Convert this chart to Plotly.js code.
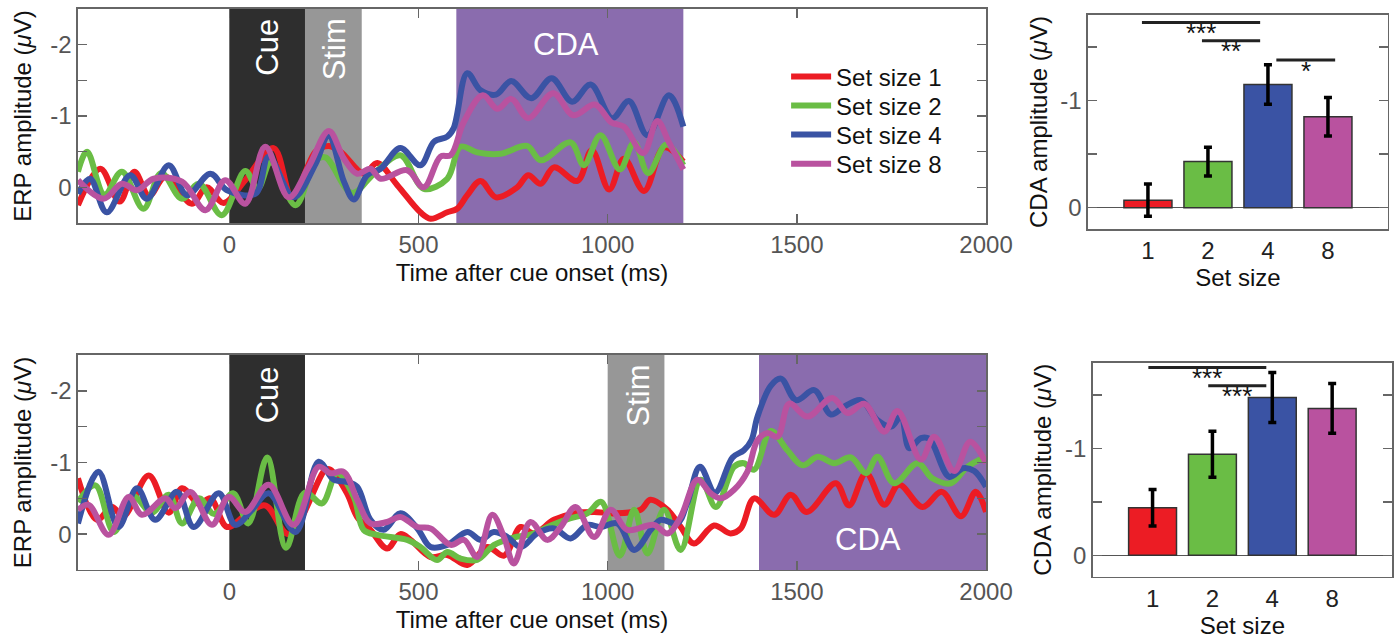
<!DOCTYPE html>
<html>
<head>
<meta charset="utf-8">
<script src="https://cdn.plot.ly/plotly-3.0.1.min.js"></script>
<style>
  html, body { margin: 0; padding: 0; background: #fff; }
  #chart { width: 1400px; height: 641px; }
</style>
</head>
<body>
<div id="chart"></div>
<script>
// ---------- ERP waveforms, cue-first condition (time in ms, amplitude in µV) ----------
const seriesNames = ['Set size 1', 'Set size 2', 'Set size 4', 'Set size 8'];

const topT1 = [-400,-341,-290,-251,-212,-169,-99,-60,-15,42,117,166,228,262,294,356,391,444,505,532,576,602,629,664,705,761,790,823,858,920,958,1004,1043,1096,1149,1200];
const topV1 = [0.25,-0.26,0.20,-0.22,0.12,-0.15,0.23,0.0,0.22,-0.10,-0.55,0.14,-0.50,-0.58,-0.50,-0.19,-0.34,-0.03,0.35,0.44,0.35,0.30,0.11,-0.09,0.14,0.0,-0.17,-0.05,-0.28,-0.09,-0.52,0.03,-0.40,0.05,-0.56,-0.36];

const topT2 = [-400,-376,-330,-284,-227,-180,-125,-80,-20,42,75,110,175,228,254,324,382,452,514,576,611,655,717,787,823,902,937,981,1032,1070,1107,1155,1200];
const topV2 = [-0.22,-0.50,0.10,-0.22,0.30,-0.20,0.16,-0.05,0.39,-0.23,0.02,-0.35,0.25,-0.38,-0.42,0.08,-0.19,-0.45,0.02,-0.12,-0.57,-0.49,-0.47,-0.58,-0.38,-0.63,-0.31,-0.73,-0.25,-0.63,-0.20,-0.60,-0.31];

const topT4 = [-400,-368,-324,-262,-218,-160,-112,-50,-6,69,104,170,228,262,303,329,364,400,452,505,541,576,593,629,664,705,745,798,852,906,955,1012,1056,1105,1162,1200];
const topV4 = [0.09,-0.12,0.35,-0.17,0.16,-0.31,0.11,-0.19,0.04,0.09,-0.43,0.14,-0.33,-0.73,-0.08,0.17,-0.17,-0.26,-0.55,-0.31,-0.64,-0.71,-0.83,-1.60,-1.36,-1.30,-1.49,-1.25,-1.53,-1.20,-1.44,-0.97,-1.21,-0.73,-1.29,-0.85];

const topT8 = [-400,-332,-284,-244,-200,-125,-63,-11,42,95,157,210,263,303,338,373,400,470,514,558,585,620,670,708,745,790,856,909,966,1010,1043,1094,1131,1162,1200];
const topV8 = [-0.10,0.16,-0.05,0.04,-0.12,-0.08,0.32,-0.10,0.23,-0.57,0.14,-0.29,-0.79,-0.40,-0.19,-0.26,-0.12,-0.24,0.0,-0.43,-0.45,-0.92,-1.29,-1.10,-1.24,-0.97,-1.32,-1.01,-1.16,-0.91,-0.85,-0.48,-0.93,-0.63,-0.25];

// ---------- ERP waveforms, stimulus-later condition ----------
const botT1 = [-400,-350,-310,-280,-213,-160,-125,-80,-50,-6,40,95,157,254,267,311,338,373,417,452,479,532,576,629,682,726,770,805,858,911,964,1017,1087,1113,1158,1193,1228,1281,1325,1352,1387,1440,1484,1526,1603,1638,1683,1731,1770,1832,1883,1934,1973,2000];
const botV1 = [-0.78,-0.20,-0.38,-0.25,-0.82,-0.30,-0.64,-0.42,-0.50,-0.10,-0.25,-0.40,0.0,-0.90,-0.90,-0.57,-0.24,-0.06,0.20,0.0,0.08,0.32,0.29,0.43,0.18,0.30,-0.10,-0.01,-0.20,-0.29,-0.31,-0.29,-0.34,-0.48,-0.34,-0.10,0.13,-0.12,-0.01,-0.08,-0.50,-0.27,-0.55,-0.31,-0.71,-0.40,-0.85,-0.41,-0.69,-0.38,-0.59,-0.25,-0.59,-0.31];

const botT2 = [-400,-354,-305,-255,-205,-160,-125,-80,-40,10,50,100,150,200,245,285,329,355,391,470,505,549,576,611,655,700,750,800,850,900,946,983,1032,1070,1105,1149,1193,1246,1286,1334,1360,1387,1431,1475,1515,1555,1599,1643,1683,1713,1757,1819,1858,1907,1951,2000];
const botV2 = [-0.45,-0.68,-0.03,-0.53,-0.30,-0.55,-0.15,-0.50,-0.28,-0.57,-0.15,-1.07,0.19,-0.58,-0.43,-0.85,-0.52,-0.06,0.01,0.08,0.18,0.36,0.25,0.34,0.36,0.15,0.05,0.0,-0.12,-0.22,-0.29,-0.45,0.30,-0.34,0.27,-0.34,0.22,-0.76,-0.38,-0.94,-0.99,-0.90,-1.44,-1.17,-0.96,-1.08,-0.99,-1.07,-0.85,-1.08,-0.71,-0.99,-0.78,-0.71,-0.94,-1.08];

const botT4 = [-400,-346,-293,-244,-196,-138,-94,-28,16,60,104,175,236,276,311,338,373,408,452,497,532,576,629,664,699,735,770,814,858,902,946,981,1026,1070,1114,1140,1184,1210,1244,1284,1330,1360,1380,1396,1431,1458,1498,1546,1590,1625,1669,1713,1749,1775,1797,1828,1850,1903,1940,1969,2000];
const botV4 = [-0.15,-0.87,-0.10,-0.64,-0.20,-0.59,-0.10,-0.57,-0.13,-0.34,-0.57,-0.03,-1.01,-0.76,-0.73,-0.66,-0.20,-0.06,-0.29,-0.08,0.18,0.15,-0.03,0.08,-0.03,0.04,0.18,-0.01,-0.08,0.06,-0.13,-0.10,-0.15,0.22,-0.06,-0.20,-0.15,-0.43,-0.94,-0.58,-1.07,-1.17,-1.31,-1.64,-2.07,-2.17,-1.87,-2.01,-1.67,-1.78,-1.87,-1.59,-1.50,-1.64,-1.20,-1.34,-1.33,-0.80,-0.92,-0.88,-0.66];

const botT8 = [-400,-372,-319,-266,-231,-169,-143,-103,-46,-2,42,104,170,236,267,302,338,373,417,452,497,532,585,620,655,695,726,752,796,840,876,915,964,1008,1052,1122,1158,1193,1237,1272,1299,1334,1369,1396,1422,1449,1480,1528,1594,1634,1678,1731,1766,1828,1863,1916,1958,2000];
const botV8 = [-0.34,-0.41,0.01,-0.52,-0.27,-0.50,-0.36,-0.59,-0.13,-0.52,-0.31,-0.69,-0.13,-0.94,-0.85,-0.87,-0.48,-0.15,-0.17,-0.24,-0.10,-0.08,0.15,0.08,0.32,-0.27,0.04,0.41,-0.17,0.08,-0.10,-0.38,0.04,-0.34,-0.06,-0.13,-0.01,-0.24,-0.76,-0.57,-0.50,-0.62,-0.87,-1.31,-1.41,-1.36,-1.82,-1.64,-1.90,-1.69,-1.82,-1.43,-1.72,-1.04,-1.36,-0.88,-1.29,-0.99];

// ---------- Mean CDA amplitude per set size ----------
const setSizes = ['1', '2', '4', '8'];
const topCDA = [-0.07, -0.43, -1.15, -0.85];
const topSEM = [0.15, 0.135, 0.185, 0.18];
const botCDA = [-0.445, -0.945, -1.475, -1.373];
const botSEM = [0.17, 0.215, 0.233, 0.233];

// pairwise comparisons and their significance labels
const topPairs = [['1', '4'], ['2', '4'], ['4', '8']];
const topStars = ['***', '**', '*'];
const botPairs = [['1', '4'], ['2', '4']];
const botStars = ['***', '***'];

// ---------- styling ----------
const colors = ['#ec1c24', '#6abd45', '#3a53a4', '#b9529f'];
const FONT = 'Liberation Sans, Arial, Helvetica, sans-serif';
const AXIS_GREY = '#666';
const TICK_GREY = '#555';
const legendIds = ['legend', 'legend2', 'legend3', 'legend4'];

function wave(t, v, i, xa, ya, legend) {
  return {
    type: 'scatter', mode: 'lines', x: t, y: v, name: seriesNames[i],
    xaxis: xa, yaxis: ya, showlegend: legend, legend: legendIds[i],
    line: { color: colors[i], width: 6, shape: 'spline', smoothing: 1 },
    hoverinfo: 'skip'
  };
}

function bars(vals, errs, xa, ya) {
  return {
    type: 'bar', x: setSizes, y: vals, xaxis: xa, yaxis: ya, showlegend: false,
    width: 0.8,
    marker: { color: colors, line: { color: '#333', width: 1.5 } },
    error_y: { type: 'data', array: errs, visible: true, color: '#000', thickness: 3.5, width: 4 },
    hoverinfo: 'skip'
  };
}

const traces = [
  wave(topT1, topV1, 0, 'x', 'y', true),
  wave(topT2, topV2, 1, 'x', 'y', true),
  wave(topT4, topV4, 2, 'x', 'y', true),
  wave(topT8, topV8, 3, 'x', 'y', true),
  wave(botT1, botV1, 0, 'x2', 'y2', false),
  wave(botT2, botV2, 1, 'x2', 'y2', false),
  wave(botT4, botV4, 2, 'x2', 'y2', false),
  wave(botT8, botV8, 3, 'x2', 'y2', false),
  bars(topCDA, topSEM, 'x3', 'y3'),
  bars(botCDA, botSEM, 'x4', 'y4')
];

const baseAxis = {
  showline: true, linecolor: AXIS_GREY, linewidth: 1.5, mirror: 'allticks',
  ticks: 'inside', ticklen: 9, tickwidth: 1.5, tickcolor: AXIS_GREY,
  showgrid: false, zeroline: false,
  tickfont: { family: FONT, size: 24, color: TICK_GREY }
};

function timeAxis(domain, anchor) {
  return Object.assign({}, baseAxis, {
    domain: domain, anchor: anchor, range: [-400, 2000],
    tickvals: [0, 500, 1000, 1500, 2000],
    title: { text: 'Time after cue onset (ms)', font: { family: FONT, size: 24, color: '#111' }, standoff: 7 }
  });
}
function erpAxis(domain, anchor) {
  return Object.assign({}, baseAxis, {
    domain: domain, anchor: anchor, range: [0.5, -2.5],
    tickvals: [-2, -1.5, -1, -0.5, 0], ticktext: ['-2', '', '-1', '', '0'],
    title: { text: 'ERP amplitude (<i>μ</i>V)', font: { family: FONT, size: 24, color: '#111' }, standoff: 12 }
  });
}
function sizeAxis(domain, anchor) {
  return Object.assign({}, baseAxis, {
    domain: domain, anchor: anchor, type: 'category', range: [-1, 4],
    ticks: '', tickfont: { family: FONT, size: 24, color: '#222' },
    title: { text: 'Set size', font: { family: FONT, size: 24, color: '#111' }, standoff: 4 }
  });
}
function cdaAxis(domain, anchor) {
  return Object.assign({}, baseAxis, {
    domain: domain, anchor: anchor, range: [0.2, -1.8],
    tickvals: [-1.5, -1, -0.5, 0], ticktext: ['', '-1', '', '0'],
    zeroline: true, zerolinecolor: '#555', zerolinewidth: 1.5,
    title: { text: 'CDA amplitude (<i>μ</i>V)', font: { family: FONT, size: 24, color: '#111' }, standoff: 6 }
  });
}

// event windows behind the waveforms
function band(xa, ya, x0, x1, color) {
  return { type: 'rect', xref: xa, yref: ya + ' domain', x0: x0, x1: x1, y0: 0, y1: 1,
           fillcolor: color, line: { width: 0 }, layer: 'below' };
}
const CUE = '#2e2e2e', STIM = '#979797', CDA = '#8a6cae';
const shapes = [
  band('x', 'y', 0, 200, CUE), band('x', 'y', 200, 350, STIM), band('x', 'y', 600, 1200, CDA),
  band('x2', 'y2', 0, 200, CUE), band('x2', 'y2', 1000, 1150, STIM), band('x2', 'y2', 1400, 2000, CDA)
];

function label(xa, ya, x, y, text, angle) {
  return { xref: xa, yref: ya, x: x, y: y, text: text, showarrow: false, textangle: angle,
           xanchor: 'center', yanchor: 'middle', font: { family: FONT, size: 31, color: '#fff' } };
}
const annotations = [
  label('x', 'y', 100, -1.96, 'Cue', -90),
  label('x', 'y', 280, -1.94, 'Stim', -90),
  label('x', 'y', 889, -2.0, 'CDA', 0),
  label('x2', 'y2', 100, -1.94, 'Cue', -90),
  label('x2', 'y2', 1082, -1.93, 'Stim', -90),
  label('x2', 'y2', 1688, 0.08, 'CDA', 0)
];

// significance brackets above the bars
function brackets(pairs, stars, xa, ya, levels, offsets) {
  pairs.forEach(function (p, k) {
    const x0 = setSizes.indexOf(p[0]) + offsets[k][0];
    const x1 = setSizes.indexOf(p[1]) + offsets[k][1];
    shapes.push({ type: 'line', xref: xa, yref: ya, x0: x0, x1: x1, y0: levels[k], y1: levels[k],
                  line: { color: '#222', width: 3 } });
    annotations.push({ xref: xa, yref: ya, x: (x0 + x1) / 2, y: levels[k] + 0.1, text: stars[k],
                       showarrow: false, xanchor: 'center', yanchor: 'middle',
                       font: { family: FONT, size: 26, color: '#111' } });
  });
}
brackets(topPairs, topStars, 'x3', 'y3', [-1.73, -1.56, -1.38], [[-0.1, -0.13], [-0.1, -0.13], [0.14, 0.12]]);
brackets(botPairs, botStars, 'x4', 'y4', [-1.755, -1.584], [[-0.07, -0.1], [-0.07, -0.1]]);

// one legend box per series so the rows sit at the intended spacing
function legendBox(y) {
  return {
    x: 0.5615, y: y, xanchor: 'left', yanchor: 'middle',
    bgcolor: 'rgba(0,0,0,0)', borderwidth: 0, itemwidth: 40,
    font: { family: FONT, size: 24, color: '#111' }
  };
}

const layout = {
  width: 1400, height: 641,
  margin: { l: 0, r: 0, t: 0, b: 0 },
  paper_bgcolor: '#fff', plot_bgcolor: '#fff',
  font: { family: FONT, color: '#111' },
  showlegend: true,
  legend: legendBox(0.8799),
  legend2: legendBox(0.8346),
  legend3: legendBox(0.7894),
  legend4: legendBox(0.7441),
  xaxis: timeAxis([0.0557, 0.7043], 'y'),
  yaxis: erpAxis([0.6521, 0.9860], 'x'),
  xaxis2: timeAxis([0.0557, 0.7043], 'y2'),
  yaxis2: erpAxis([0.1108, 0.4462], 'x2'),
  xaxis3: sizeAxis([0.7771, 0.9914], 'y3'),
  yaxis3: cdaAxis([0.6427, 0.9766], 'x3'),
  xaxis4: sizeAxis([0.7805, 0.9943], 'y4'),
  yaxis4: cdaAxis([0.1003, 0.4342], 'x4'),
  shapes: shapes,
  annotations: annotations
};

Plotly.newPlot('chart', traces, layout, { displayModeBar: false, staticPlot: true });
</script>
</body>
</html>
